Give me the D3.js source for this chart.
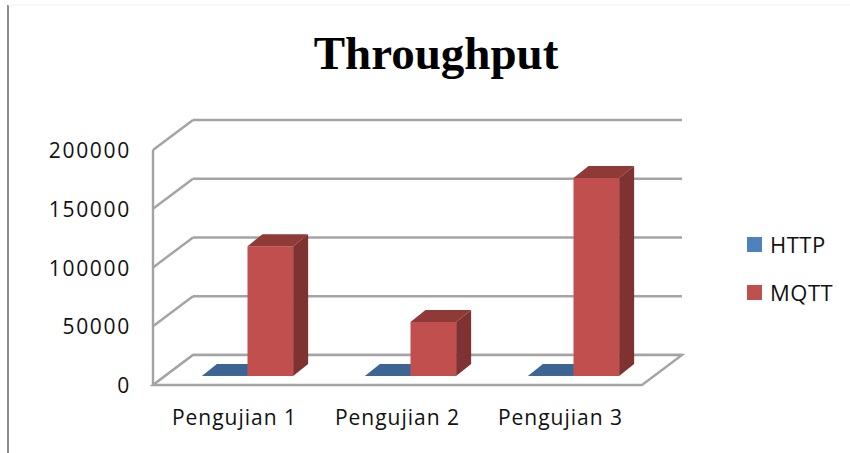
<!DOCTYPE html>
<html>
<head>
<meta charset="utf-8">
<script src="https://cdn.jsdelivr.net/npm/d3@7"></script>
<style>
  body { margin: 0; background: #fff; }
  text { fill: #111; }
</style>
</head>
<body>
<div id="chart"></div>
<script>
var categories = ['Pengujian 1', 'Pengujian 2', 'Pengujian 3'];
var seriesNames = ['HTTP', 'MQTT'];
var httpValues = [60, 50, 60];
var mqttValues = [110500, 46000, 168500];
var yTicks = [0, 50000, 100000, 150000, 200000];
var colors = ['#4f81bd', '#c0504d'];
var topColors = ['#3e6594', '#8e3a38'];
var sideColors = ['#345580', '#7e3130'];

var width = 850,
    height = 453;

// wall offset of the 3d box, and of the bars inside it
var depthX = 40, depthY = -30;
var barOffX = 13, barOffY = -9;
var barDepthX = 15, barDepthY = -12;

var svg = d3.select('#chart').append('svg')
    .attr('width', width)
    .attr('height', height)
    .style('display', 'block');

var defs = svg.append('defs');
defs.append('filter').attr('id', 'soft')
    .append('feGaussianBlur').attr('stdDeviation', 0.7);

var x = d3.scaleBand().domain(categories).range([153, 642])
    .paddingInner(0.44).paddingOuter(0.22);
var xSeries = d3.scaleBand().domain(seriesNames).range([0, x.bandwidth()]);
var y = d3.scaleLinear().domain([0, 200000]).range([385, 150]);

// page edge lines from the screenshot
svg.append('line').attr('x1', 8).attr('x2', 8).attr('y1', 5).attr('y2', height)
    .attr('stroke', '#8c8c8c').attr('stroke-width', 2);
svg.append('line').attr('x1', 8).attr('x2', width).attr('y1', 5).attr('y2', 5)
    .attr('stroke', '#f0f0f0');

svg.append('text')
    .attr('x', 436)
    .attr('y', 69)
    .attr('text-anchor', 'middle')
    .style('font-family', '"Liberation Serif", serif')
    .style('font-weight', 'bold')
    .style('font-size', '47px')
    .style('fill', '#000')
    .text('Throughput');

var plot = svg.append('g').attr('filter', 'url(#soft)');
var gridColor = '#a4a4a4';

// back wall lines and the diagonals on the side wall
plot.selectAll('.grid-back').data(yTicks).enter().append('line')
    .attr('class', 'grid-back')
    .attr('x1', 153 + depthX)
    .attr('x2', 642 + depthX)
    .attr('y1', function (d) { return y(d) + depthY; })
    .attr('y2', function (d) { return y(d) + depthY; })
    .attr('stroke', gridColor).attr('stroke-width', 2.4);

plot.selectAll('.grid-side').data(yTicks).enter().append('line')
    .attr('class', 'grid-side')
    .attr('x1', 153)
    .attr('x2', 153 + depthX)
    .attr('y1', function (d) { return y(d); })
    .attr('y2', function (d) { return y(d) + depthY; })
    .attr('stroke', gridColor).attr('stroke-width', 2.4);

// floor
plot.append('path')
    .attr('d', 'M' + (153 + depthX) + ',' + (y(0) + depthY) + 'H' + (642 + depthX) + 'L642,' + y(0) + 'H153Z')
    .attr('fill', '#fff');
plot.append('path')
    .attr('d', 'M153,' + y(0) + 'H642L' + (642 + depthX) + ',' + (y(0) + depthY) + 'H' + (153 + depthX) + 'Z')
    .attr('fill', 'none').attr('stroke', gridColor).attr('stroke-width', 2.4);

var axis = d3.axisLeft(y).tickValues(yTicks).tickSize(0).tickPadding(0).tickFormat(d3.format('d'));
var axisG = svg.append('g').attr('transform', 'translate(131,1)').call(axis);
axisG.select('.domain').remove();
axisG.selectAll('text')
    .style('font-family', '"Open Sans", sans-serif')
    .style('font-size', '21px')
    .style('letter-spacing', '1.7px');
plot.append('line').attr('x1', 153).attr('x2', 153).attr('y1', y(200000)).attr('y2', y(0))
    .attr('stroke', gridColor).attr('stroke-width', 2.4);

// bars, one series after the other
var seriesData = [httpValues, mqttValues];
seriesNames.forEach(function (name, s) {
    var g = plot.append('g').attr('class', 'series-' + name);
    seriesData[s].forEach(function (v, i) {
        var x0 = x(categories[i]) + xSeries(name) + barOffX;
        var x1 = x0 + xSeries.bandwidth();
        var base = y(0) + barOffY;
        var top = y(v) + barOffY;
        g.append('path')
            .attr('d', 'M' + x1 + ',' + top + 'l' + barDepthX + ',' + barDepthY + 'V' + (base + barDepthY) + 'L' + x1 + ',' + base + 'Z')
            .attr('fill', sideColors[s]);
        g.append('path')
            .attr('d', 'M' + x0 + ',' + top + 'H' + x1 + 'l' + barDepthX + ',' + barDepthY + 'H' + (x0 + barDepthX) + 'Z')
            .attr('fill', topColors[s]);
        g.append('rect')
            .attr('x', x0).attr('y', top)
            .attr('width', x1 - x0).attr('height', base - top)
            .attr('fill', colors[s]);
    });
});

svg.selectAll('.cat').data(categories).enter().append('text')
    .attr('class', 'cat')
    .attr('x', function (d) { return x(d) + x.bandwidth() / 2; })
    .attr('y', 425)
    .attr('text-anchor', 'middle')
    .style('font-family', '"Open Sans", sans-serif')
    .style('font-size', '21px')
    .style('letter-spacing', '1px')
    .text(function (d) { return d; });

var legend = svg.selectAll('.legend').data(seriesNames).enter().append('g')
    .attr('class', 'legend')
    .attr('transform', function (d, i) { return 'translate(747,' + (237 + i * 48) + ')'; });
legend.append('rect').attr('width', 15).attr('height', 15)
    .attr('fill', function (d, i) { return colors[i]; });
legend.append('text')
    .attr('x', 23).attr('y', 16)
    .style('font-family', '"Open Sans", sans-serif')
    .style('font-size', '22px')
    .style('letter-spacing', '0.5px')
    .text(function (d) { return d; });
</script>
</body>
</html>
